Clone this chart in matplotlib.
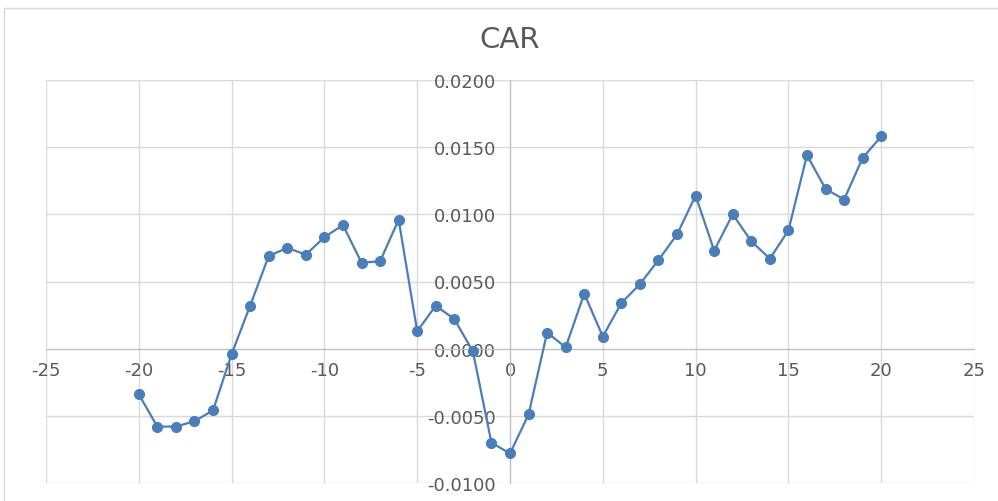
import matplotlib
matplotlib.use("Agg")
import matplotlib.pyplot as plt
from matplotlib.patches import Rectangle
from matplotlib.ticker import FuncFormatter, MultipleLocator

plt.rcParams['axes.unicode_minus'] = False
plt.rcParams['font.family'] = ['DejaVu Sans']

# Event-window days and cumulative abnormal returns
days = list(range(-20, 21))
car = [-0.0034, -0.0058, -0.0058, -0.0054, -0.0046, -0.0004, 0.0032, 0.0069,
       0.0075, 0.0070, 0.0083, 0.0092, 0.0064, 0.0065, 0.0096, 0.0013,
       0.0032, 0.0022, -0.0002, -0.0070, -0.0078, -0.0049, 0.0012, 0.0001,
       0.0041, 0.0009, 0.0034, 0.0048, 0.0066, 0.0085, 0.0114, 0.0073,
       0.0100, 0.0080, 0.0067, 0.0088, 0.0144, 0.0119, 0.0111, 0.0142,
       0.0158]

title = "CAR"
line_color = "#4A7EBB"
text_color = "#595959"
grid_color = "#D9D9D9"

fig = plt.figure(figsize=(9.98, 5.02), dpi=100)
fig.patch.set_facecolor("white")

# outer chart-area frame
fig.patches.append(Rectangle((4 / 998, -0.05), 1.2, (502 - 9) / 502 + 0.05,
                             transform=fig.transFigure, fill=False,
                             edgecolor="#D9D9D9", linewidth=1.0))

ax = fig.add_axes([46 / 998, 18 / 502, 928 / 998, 403 / 502])
ax.plot(days, car, color=line_color, linewidth=1.6, marker="o",
        markersize=7, markerfacecolor=line_color, markeredgecolor=line_color,
        zorder=3)

ax.set_xlim(-25, 25)
ax.set_ylim(-0.01, 0.02)
ax.xaxis.set_major_locator(MultipleLocator(5))
ax.yaxis.set_major_locator(MultipleLocator(0.005))
ax.yaxis.set_major_formatter(FuncFormatter(lambda v, p: f"{v:.4f}"))
ax.xaxis.set_major_formatter(FuncFormatter(lambda v, p: f"{v:g}"))

ax.grid(True, color=grid_color, linewidth=1.0, zorder=0)
ax.set_axisbelow(True)

for side in ("top", "right"):
    ax.spines[side].set_visible(False)
ax.spines["left"].set_position(("data", 0))
ax.spines["bottom"].set_position(("data", 0))
ax.spines["left"].set_color("#BFBFBF")
ax.spines["bottom"].set_color("#BFBFBF")
ax.spines["left"].set_zorder(1)
ax.spines["bottom"].set_zorder(1)

ax.tick_params(axis="both", length=0, labelsize=13, labelcolor=text_color)
ax.tick_params(axis="y", pad=10)
ax.tick_params(axis="x", pad=9)
for lbl in ax.get_yticklabels() + ax.get_xticklabels():
    lbl.set_zorder(2)

fig.text(510 / 998, 1 - 40 / 502, title, ha="center", va="center",
         fontsize=21, color=text_color)

fig.savefig("out.png", dpi=100, facecolor="white")
